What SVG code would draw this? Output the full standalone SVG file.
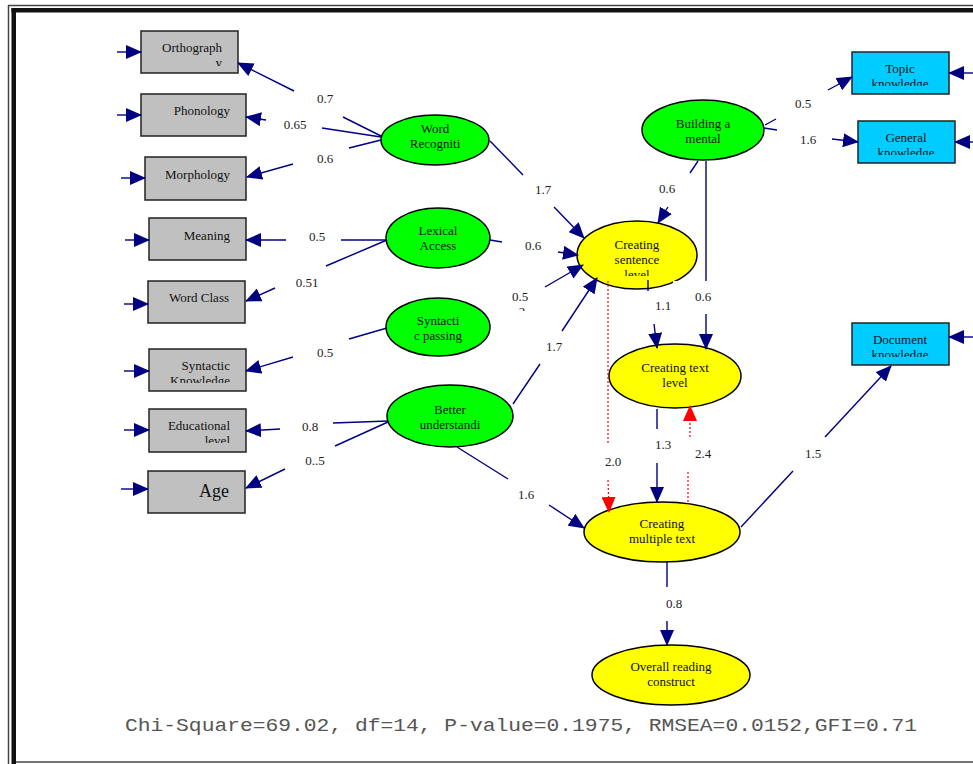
<svg xmlns="http://www.w3.org/2000/svg" width="973" height="764" viewBox="0 0 973 764">
<defs>
<marker id="ah" markerUnits="userSpaceOnUse" markerWidth="16" markerHeight="14" refX="15" refY="7" orient="auto"><path d="M0,0 L16,7 L0,14 Z" fill="#000080"/></marker>
<marker id="ahr" markerUnits="userSpaceOnUse" markerWidth="16" markerHeight="14" refX="15" refY="7" orient="auto"><path d="M0,0 L16,7 L0,14 Z" fill="#FF0000"/></marker>
<clipPath id="cOrth"><rect x="141" y="31" width="97" height="35"/></clipPath>
<clipPath id="cSynK"><rect x="149" y="349" width="97" height="34"/></clipPath>
<clipPath id="cEdu"><rect x="149" y="409" width="97" height="34"/></clipPath>
<clipPath id="cTop"><rect x="852" y="52" width="97" height="34"/></clipPath>
<clipPath id="cGen"><rect x="858" y="121" width="97" height="34"/></clipPath>
<clipPath id="cDoc"><rect x="852" y="323" width="97" height="34"/></clipPath>
<clipPath id="cCS"><rect x="577" y="221" width="121" height="55"/></clipPath>
<clipPath id="cL2"><rect x="500" y="285" width="40" height="26"/></clipPath>
</defs>
<style>
.box{fill:#C0C0C0;stroke:#222;stroke-width:1.5}
.kb{fill:#00CCFF;stroke:#222;stroke-width:1.5}
.g{fill:#00FF00;stroke:#000;stroke-width:1.5}
.y{fill:#FFFF00;stroke:#000;stroke-width:1.5}
.t{font-family:"Liberation Serif","Times New Roman",serif;font-size:13px;fill:#111}
.e{text-anchor:end}
.m{text-anchor:middle}
.c{stroke:#000080;stroke-width:1.4;fill:none}
.d{stroke:#FF0000;stroke-width:1.2;stroke-dasharray:2 2;fill:none}
.lbl{font-family:"Liberation Serif","Times New Roman",serif;font-size:13px;fill:#222;text-anchor:middle}
</style>
<rect x="0" y="0" width="973" height="764" fill="#fff"/>
<g id="frame">
<line x1="8" y1="5.5" x2="973" y2="5.5" stroke="#444" stroke-width="1.5"/>
<line x1="8.5" y1="5" x2="8.5" y2="764" stroke="#444" stroke-width="1.5"/>
<rect x="11.5" y="8" width="961.5" height="4.5" fill="#111"/>
<rect x="11.5" y="8" width="4.5" height="756" fill="#111"/>
<line x1="16" y1="762" x2="973" y2="762" stroke="#444" stroke-width="1.5"/>
</g>

<g id="orthography"><rect class="box" x="141" y="31" width="97" height="42"/><g clip-path="url(#cOrth)"><text class="t e" x="222" y="52">Orthograph</text><text class="t e" x="222" y="67">y</text></g></g>
<g id="phonology"><rect class="box" x="141" y="94" width="105" height="42"/><text class="t e" x="230" y="115">Phonology</text></g>
<g id="morphology"><rect class="box" x="145" y="157" width="101" height="43"/><text class="t e" x="230" y="179">Morphology</text></g>
<g id="meaning"><rect class="box" x="149" y="218" width="97" height="42"/><text class="t e" x="230" y="240">Meaning</text></g>
<g id="wordclass"><rect class="box" x="148" y="281" width="97" height="42"/><text class="t e" x="229" y="302">Word Class</text></g>
<g id="syntactic-knowledge"><rect class="box" x="149" y="349" width="97" height="42"/><g clip-path="url(#cSynK)"><text class="t e" x="230" y="370">Syntactic</text><text class="t e" x="230" y="385">Knowledge</text></g></g>
<g id="educational"><rect class="box" x="149" y="409" width="97" height="43"/><g clip-path="url(#cEdu)"><text class="t e" x="230" y="430">Educational</text><text class="t e" x="230" y="445">level</text></g></g>
<g id="age"><rect class="box" x="148" y="471" width="97" height="42"/><text class="t e" x="229" y="497" style="font-size:18px">Age</text></g>

<g id="topic"><rect class="kb" x="852" y="52" width="97" height="42"/><g clip-path="url(#cTop)"><text class="t m" x="900" y="73">Topic</text><text class="t m" x="900" y="88">knowledge</text></g></g>
<g id="general"><rect class="kb" x="858" y="121" width="97" height="42"/><g clip-path="url(#cGen)"><text class="t m" x="906" y="142">General</text><text class="t m" x="906" y="157">knowledge</text></g></g>
<g id="document"><rect class="kb" x="852" y="323" width="97" height="42"/><g clip-path="url(#cDoc)"><text class="t m" x="900" y="344">Document</text><text class="t m" x="900" y="359">knowledge</text></g></g>

<g id="word-recognition"><ellipse class="g" cx="435" cy="140" rx="54" ry="25"/><text class="t m" x="435" y="133">Word</text><text class="t m" x="435" y="148">Recogniti</text></g>
<g id="lexical-access"><ellipse class="g" cx="438" cy="238" rx="52" ry="30"/><text class="t m" x="438" y="235">Lexical</text><text class="t m" x="438" y="250">Access</text></g>
<g id="syntactic-passing"><ellipse class="g" cx="438" cy="327" rx="52" ry="29"/><text class="t m" x="438" y="325">Syntacti</text><text class="t m" x="438" y="340">c passing</text></g>
<g id="better"><ellipse class="g" cx="450" cy="416" rx="63" ry="31"/><text class="t m" x="450" y="414">Better</text><text class="t m" x="450" y="429">understandi</text></g>
<g id="building"><ellipse class="g" cx="703" cy="130" rx="61" ry="30"/><text class="t m" x="703" y="128">Building a</text><text class="t m" x="703" y="143">mental</text></g>
<g id="creating-sentence"><ellipse class="y" cx="637" cy="255" rx="60" ry="34"/><g clip-path="url(#cCS)"><text class="t m" x="637" y="249">Creating</text><text class="t m" x="637" y="264">sentence</text><text class="t m" x="637" y="279">level</text></g></g>
<g id="creating-text"><ellipse class="y" cx="675" cy="376" rx="66" ry="32"/><text class="t m" x="675" y="372">Creating text</text><text class="t m" x="675" y="387">level</text></g>
<g id="creating-multiple"><ellipse class="y" cx="662" cy="532" rx="78" ry="30"/><text class="t m" x="662" y="528">Creating</text><text class="t m" x="662" y="543">multiple text</text></g>
<g id="overall"><ellipse class="y" cx="671" cy="675" rx="79" ry="30"/><text class="t m" x="671" y="671">Overall reading</text><text class="t m" x="671" y="686">construct</text></g>

<rect x="673" y="281" width="62" height="32" fill="#fff"/>

<g id="connectors">
<line class="c" x1="117" y1="52" x2="141" y2="52" marker-end="url(#ah)"/>
<line class="c" x1="117" y1="115" x2="141" y2="115" marker-end="url(#ah)"/>
<line class="c" x1="121" y1="178" x2="145" y2="178" marker-end="url(#ah)"/>
<line class="c" x1="125" y1="240" x2="149" y2="240" marker-end="url(#ah)"/>
<line class="c" x1="124" y1="304" x2="148" y2="304" marker-end="url(#ah)"/>
<line class="c" x1="124" y1="371" x2="149" y2="371" marker-end="url(#ah)"/>
<line class="c" x1="124" y1="430" x2="149" y2="430" marker-end="url(#ah)"/>
<line class="c" x1="121" y1="489" x2="148" y2="489" marker-end="url(#ah)"/>
<line class="c" x1="973" y1="73" x2="949" y2="73" marker-end="url(#ah)"/>
<line class="c" x1="973" y1="142" x2="955" y2="142" marker-end="url(#ah)"/>
<line class="c" x1="973" y1="337" x2="949" y2="337" marker-end="url(#ah)"/>

<line class="c" x1="381" y1="136" x2="343" y2="117"/>
<line class="c" x1="294" y1="91" x2="238" y2="63" marker-end="url(#ah)"/>
<line class="c" x1="381" y1="137" x2="322" y2="128"/>
<line class="c" x1="266" y1="120" x2="246" y2="117" marker-end="url(#ah)"/>
<line class="c" x1="381" y1="140" x2="349" y2="148"/>
<line class="c" x1="293" y1="164" x2="247" y2="177" marker-end="url(#ah)"/>
<line class="c" x1="387" y1="240" x2="341" y2="240"/>
<line class="c" x1="286" y1="240" x2="246" y2="240" marker-end="url(#ah)"/>
<line class="c" x1="387" y1="240" x2="326" y2="266"/>
<line class="c" x1="275" y1="288" x2="246" y2="301" marker-end="url(#ah)"/>
<line class="c" x1="387" y1="328" x2="349" y2="339"/>
<line class="c" x1="293" y1="357" x2="246" y2="371" marker-end="url(#ah)"/>
<line class="c" x1="388" y1="421" x2="333" y2="423"/>
<line class="c" x1="280" y1="429" x2="246" y2="431" marker-end="url(#ah)"/>
<line class="c" x1="388" y1="422" x2="335" y2="446"/>
<line class="c" x1="285" y1="469" x2="246" y2="488" marker-end="url(#ah)"/>

<line class="c" x1="490" y1="141" x2="523" y2="175"/>
<line class="c" x1="554" y1="207" x2="584" y2="238" marker-end="url(#ah)"/>
<line class="c" x1="490" y1="240" x2="502" y2="242"/>
<line class="c" x1="558" y1="252" x2="578" y2="255" marker-end="url(#ah)"/>
<line class="c" x1="545" y1="287" x2="583" y2="265" marker-end="url(#ah)"/>
<line class="c" x1="513" y1="404" x2="540" y2="364"/>
<line class="c" x1="562" y1="331" x2="597" y2="278" marker-end="url(#ah)"/>
<line class="c" x1="698" y1="161" x2="690" y2="173"/>
<line class="c" x1="668" y1="207" x2="658" y2="223" marker-end="url(#ah)"/>
<line class="c" x1="706" y1="161" x2="706" y2="281"/>
<line class="c" x1="706" y1="314" x2="706" y2="349" marker-end="url(#ah)"/>
<line class="c" x1="765" y1="125" x2="776" y2="119"/>
<line class="c" x1="828" y1="90" x2="852" y2="77" marker-end="url(#ah)"/>
<line class="c" x1="764" y1="128" x2="777" y2="130"/>
<line class="c" x1="832" y1="139" x2="858" y2="142" marker-end="url(#ah)"/>
<line class="c" x1="648" y1="280" x2="648" y2="291"/>
<line class="c" x1="654" y1="324" x2="657" y2="348" marker-end="url(#ah)"/>
<line class="c" x1="657" y1="409" x2="657" y2="429"/>
<line class="c" x1="657" y1="463" x2="657" y2="502" marker-end="url(#ah)"/>
<line class="c" x1="457" y1="447" x2="508" y2="479"/>
<line class="c" x1="549" y1="505" x2="584" y2="528" marker-end="url(#ah)"/>
<line class="c" x1="741" y1="527" x2="793" y2="471"/>
<line class="c" x1="825" y1="437" x2="891" y2="366" marker-end="url(#ah)"/>
<line class="c" x1="667" y1="562" x2="667" y2="587"/>
<line class="c" x1="667" y1="621" x2="667" y2="645" marker-end="url(#ah)"/>

<line class="d" x1="608" y1="281" x2="608" y2="445"/>
<line class="d" x1="608" y1="480" x2="609" y2="512" marker-end="url(#ahr)"/>
<line class="d" x1="688" y1="502" x2="688" y2="471"/>
<line class="d" x1="690" y1="437" x2="690" y2="406" marker-end="url(#ahr)"/>
</g>

<g id="labels">
<text class="lbl" x="325" y="103">0.7</text>
<text class="lbl" x="295" y="129">0.65</text>
<text class="lbl" x="325" y="163">0.6</text>
<text class="lbl" x="317" y="241">0.5</text>
<text class="lbl" x="307" y="287">0.51</text>
<text class="lbl" x="325" y="357">0.5</text>
<text class="lbl" x="310" y="431">0.8</text>
<text class="lbl" x="315" y="465">0..5</text>
<text class="lbl" x="543" y="194">1.7</text>
<text class="lbl" x="533" y="250">0.6</text>
<g clip-path="url(#cL2)"><text class="lbl" x="520" y="301">0.5</text><text class="lbl" x="522" y="316">2</text></g>
<text class="lbl" x="554" y="351">1.7</text>
<text class="lbl" x="667" y="193">0.6</text>
<text class="lbl" x="703" y="301">0.6</text>
<text class="lbl" x="663" y="310">1.1</text>
<text class="lbl" x="803" y="108">0.5</text>
<text class="lbl" x="808" y="144">1.6</text>
<text class="lbl" x="613" y="466">2.0</text>
<text class="lbl" x="663" y="449">1.3</text>
<text class="lbl" x="703" y="458">2.4</text>
<text class="lbl" x="813" y="458">1.5</text>
<text class="lbl" x="526" y="499">1.6</text>
<text class="lbl" x="674" y="608">0.8</text>
</g>

<text x="125" y="731" font-family="Liberation Mono, Courier New, monospace" font-size="19" textLength="792" lengthAdjust="spacingAndGlyphs" fill="#555">Chi-Square=69.02, df=14, P-value=0.1975, RMSEA=0.0152,GFI=0.71</text>
</svg>
